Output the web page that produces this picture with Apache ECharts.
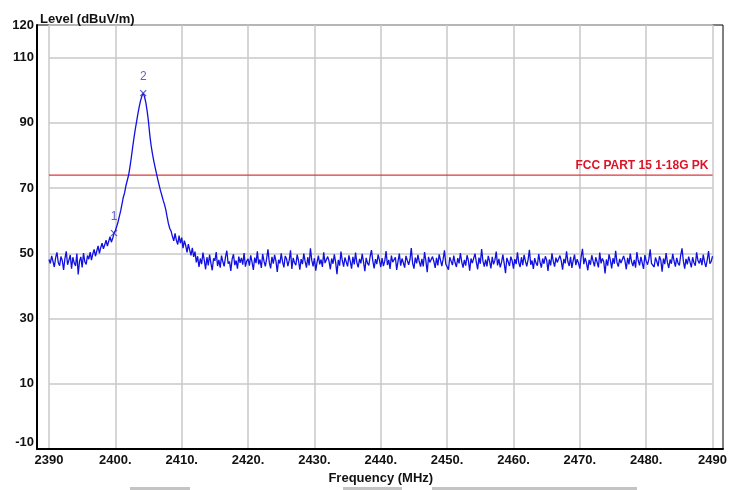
<!DOCTYPE html>
<html>
<head>
<meta charset="utf-8">
<script src="https://cdn.jsdelivr.net/npm/echarts@6/dist/echarts.min.js"></script>
<style>
  html, body { margin: 0; padding: 0; background: #fff; }
  #chart { width: 730px; height: 490px; }
</style>
</head>
<body>
<div id="chart"></div>
<script>
// 扫描起点/步进 (MHz)
const freqStart = 2390;
const freqStep = 0.2;
const xTicks = [2390, 2400, 2410, 2420, 2430, 2440, 2450, 2460, 2470, 2480, 2490];

// 实测电平 dBuV/m, 每 0.2 MHz 一个点
const levels = [
  48.1, 46.9, 49.2, 47.5, 45.8, 48.7, 50.3, 47.1, 46.2, 49.0,
  47.8, 44.9, 48.4, 50.6, 46.5, 47.9, 49.5, 45.3, 48.8, 47.0,
  46.1, 49.9, 43.5, 47.6, 48.9, 45.7, 50.1, 47.4, 46.6, 49.3,
  48.2, 50.4, 47.9, 49.8, 51.2, 49.1, 50.7, 52.3, 50.0, 51.8,
  53.1, 51.4, 52.6, 54.0, 52.2, 53.7, 55.1, 53.4, 54.6, 56.2,
  57.0, 58.2, 59.6, 61.3, 63.0, 65.1, 67.2, 68.6, 70.8, 72.4,
  74.0, 76.5, 79.3, 82.4, 85.3, 88.0, 90.4, 92.8, 95.0, 96.8,
  98.2, 99.1, 98.0, 96.1, 93.5, 90.2, 86.1, 82.9, 80.4, 78.2,
  76.3, 74.4, 72.6, 70.9, 69.2, 67.8, 66.3, 65.0, 63.4, 61.2,
  59.1, 57.6, 56.8,
  55.2, 53.8, 56.1, 54.0, 52.7, 55.4, 53.1, 54.8, 51.6, 53.9,
  52.4, 50.3, 52.8, 51.0, 49.4, 51.7, 48.9, 50.5,
  47.2, 49.1, 45.8, 48.4, 46.7, 50.2, 47.9, 45.1, 48.8, 46.3, 49.6, 47.0, 44.8, 48.5, 47.7, 50.4, 46.1, 48.0, 45.6, 49.3,
  47.4, 46.0, 48.9, 50.8, 46.8, 47.5, 44.6, 48.2, 49.7, 46.4, 47.8, 45.3, 49.0, 47.1, 48.6, 46.5, 50.1, 45.9, 47.6, 48.3,
  46.2, 49.4, 47.3, 44.9, 48.7, 47.0, 50.6, 46.6, 48.1, 45.5, 49.8, 47.6, 46.0, 48.4, 51.2, 47.2, 45.4, 48.9, 46.8, 49.5,
  47.7, 44.3, 48.0, 46.9, 50.0, 47.4, 45.7, 49.2, 48.3, 46.1, 47.9, 50.9, 45.2, 48.6, 47.1, 46.4, 49.6, 47.8, 45.0, 48.2,
  46.7, 49.9, 47.5, 45.6, 48.8, 46.3, 51.5, 47.9, 46.0, 48.5, 44.7, 47.3, 49.3, 46.6, 48.1, 45.8, 50.3, 47.0, 46.5, 49.0,
  47.6, 45.1, 48.4, 46.8, 49.7, 47.2, 43.6, 48.0, 46.2, 50.5, 47.8, 45.9, 48.7, 47.3, 46.0, 49.4, 47.5, 45.3, 48.9, 46.6,
  50.2, 47.1, 45.7, 48.3, 46.9, 49.8, 47.4, 44.5, 48.6, 47.0, 46.3, 49.1, 51.0, 47.7, 45.4, 48.2, 46.7, 49.6, 47.9, 45.8,
  48.5, 46.1, 47.6, 50.7, 46.4, 48.0, 45.2, 49.3, 47.3, 46.8, 48.8, 44.9, 47.5, 49.9, 46.2, 48.4, 47.1, 45.6, 49.2, 47.8,
  46.5, 48.1, 51.6, 47.0, 45.3, 48.7, 46.9, 49.5, 47.4, 45.9, 48.3, 46.0, 50.4, 47.7, 44.2, 48.9, 47.2, 46.6, 49.0, 47.5,
  45.5, 48.6, 46.3, 49.7, 47.9, 46.1, 48.2, 50.9, 46.7, 47.3, 45.0, 48.8, 47.6, 46.4, 49.3, 47.1, 45.8, 48.5, 46.9, 50.1,
  47.4, 45.6, 48.0, 46.2, 49.4, 47.8, 44.7, 48.4, 47.0, 46.5, 49.9, 47.3, 45.1, 48.7, 46.8, 51.3, 47.6, 45.9, 48.1, 46.0,
  49.2, 47.5, 45.4, 48.9, 46.6, 47.9, 50.5, 46.3, 48.3, 45.7, 47.2, 49.6, 46.9, 43.9, 48.6, 47.4, 46.1, 49.0, 47.7, 45.3,
  48.2, 46.7, 50.3, 47.1, 45.8, 48.8, 46.4, 49.5, 47.6, 46.0, 48.0, 51.1, 46.5, 47.8, 45.2, 48.5, 47.0, 46.2, 49.8, 47.3,
  45.6, 48.4, 46.8, 49.1, 47.9, 44.6, 48.1, 46.3, 50.0, 47.5, 45.9, 48.7, 47.2, 46.6, 49.3, 47.7, 45.0, 48.3, 46.9, 50.6,
  47.4, 46.1, 48.9, 45.5, 47.8, 49.6, 46.4, 48.2, 47.0, 45.3, 49.0, 51.4, 46.7, 48.6, 47.1, 44.8, 48.0, 46.5, 49.4, 47.6,
  46.0, 48.8, 47.3, 45.7, 50.2, 46.9, 48.4, 47.5, 43.8, 48.1, 46.2, 49.7, 47.9, 45.4, 48.5, 46.8, 50.8, 47.2, 45.9, 48.3,
  47.0, 46.4, 49.2, 47.7, 45.1, 48.6, 46.6, 49.9, 47.4, 46.1, 48.0, 45.6, 50.4, 47.8, 46.3, 48.9, 47.1, 45.2, 49.5, 47.6,
  46.5, 48.2, 51.2, 46.9, 47.3, 45.8, 48.7, 47.5, 46.0, 49.1, 47.9, 44.4, 48.4, 46.7, 50.1, 47.2, 45.5, 48.1, 46.8, 49.8,
  47.7, 45.9, 48.6, 47.0, 46.3, 49.4, 51.5, 47.6, 45.3, 48.3, 46.6, 49.0, 47.4, 45.7, 48.8, 47.1, 46.2, 50.3, 47.8, 46.9,
  48.5, 46.4, 49.6, 47.3, 45.8, 48.0, 50.7, 46.8, 47.5, 49.1
];

// 标记点
const markerFreqs = [2399.8, 2404.2];
const markerLevels = [56.2, 99.1];
const markerNames = ["1", "2"];

// 限值线
const limitFreqs = [2390, 2490];
const limitLevels = [74, 74];
const limitName = "FCC PART 15 1-18G PK";

const font = 'Arial, "Liberation Sans", sans-serif';

const option = {
  backgroundColor: "#fff",
  animation: false,
  title: {
    text: "Level (dBuV/m)",
    left: 35,
    top: 8,
    textStyle: { fontFamily: font, fontSize: 13, fontWeight: "bold", color: "#111" }
  },
  grid: [
    { left: 49, right: 17, top: 25, bottom: 41 },
    // 外框
    { left: 37, right: 7, top: 25, bottom: 41, show: true, borderColor: "#000", borderWidth: 1, backgroundColor: "transparent" }
  ],
  xAxis: [
    {
      type: "value",
      min: 2390,
      max: 2490,
      interval: 10,
      name: "Frequency (MHz)",
      nameLocation: "middle",
      nameGap: 22,
      nameTextStyle: { fontFamily: font, fontSize: 13, fontWeight: "bold", color: "#111" },
      axisLine: { show: false },
      axisTick: { show: false },
      axisLabel: {
        margin: 5,
        fontFamily: font,
        fontSize: 13,
        fontWeight: "bold",
        color: "#111",
        formatter: v => (v === xTicks[0] || v === xTicks[xTicks.length - 1] ? String(v) : v + ".")
      },
      splitLine: { show: true, lineStyle: { color: "#c8c8c8", width: 1.5 } }
    },
    {
      gridIndex: 1,
      type: "value",
      min: 0,
      max: 1,
      axisLine: { show: true, onZero: false, lineStyle: { color: "#000", width: 2 } },
      axisTick: { show: false },
      axisLabel: { show: false },
      splitLine: { show: false }
    }
  ],
  yAxis: [
    {
      type: "value",
      min: -10,
      max: 120,
      interval: 20,
      axisLine: { show: false },
      axisTick: { show: false },
      axisLabel: {
        margin: 15,
        verticalAlignMinLabel: "bottom",
        fontFamily: font,
        fontSize: 13,
        fontWeight: "bold",
        color: "#111"
      },
      splitLine: { show: true, lineStyle: { color: "#c8c8c8", width: 1.5 } }
    },
    {
      gridIndex: 1,
      type: "value",
      min: 0,
      max: 1,
      axisLine: { show: true, onZero: false, lineStyle: { color: "#000", width: 2 } },
      axisTick: { show: false },
      axisLabel: { show: false },
      splitLine: { show: false }
    }
  ],
  graphic: [
    { type: "rect", shape: { x: 130, y: 487, width: 60, height: 3 }, style: { fill: "#c4c4c4" } },
    { type: "rect", shape: { x: 343, y: 487, width: 59, height: 3 }, style: { fill: "#c4c4c4" } },
    { type: "rect", shape: { x: 432, y: 487, width: 205, height: 3 }, style: { fill: "#c4c4c4" } }
  ],
  series: [
    {
      name: limitName,
      type: "line",
      data: limitFreqs.map((f, i) => [f, limitLevels[i]]),
      symbol: "none",
      color: "#d93a3a",
      lineStyle: { color: "#d93a3a", width: 1.3 },
      endLabel: {
        show: true,
        formatter: limitName,
        align: "right",
        verticalAlign: "bottom",
        offset: [-12, -3],
        fontFamily: font,
        fontSize: 12,
        fontWeight: "bold",
        color: "#dc1428"
      },
      z: 2
    },
    {
      name: "Level",
      type: "line",
      data: levels.map((v, i) => [freqStart + i * freqStep, v]),
      showSymbol: false,
      symbol: "none",
      color: "#1010e0",
      lineStyle: { color: "#1010e0", width: 1.3 },
      z: 3
    },
    {
      name: "Marker",
      type: "scatter",
      data: markerFreqs.map((f, i) => ({ value: [f, markerLevels[i]], name: markerNames[i] })),
      symbol: "path://M0,0L10,10M10,0L0,10",
      symbolSize: 6,
      itemStyle: { color: "none", borderColor: "#3030c8", borderWidth: 1.2 },
      label: {
        show: true,
        position: "top",
        distance: 5,
        formatter: p => p.name,
        fontFamily: font,
        fontSize: 12,
        color: "#3838c0"
      },
      z: 4
    }
  ]
};

const myChart = echarts.init(document.getElementById("chart"));
myChart.setOption(option);
window.addEventListener("resize", () => {
  myChart.resize();
});
</script>
</body>
</html>
